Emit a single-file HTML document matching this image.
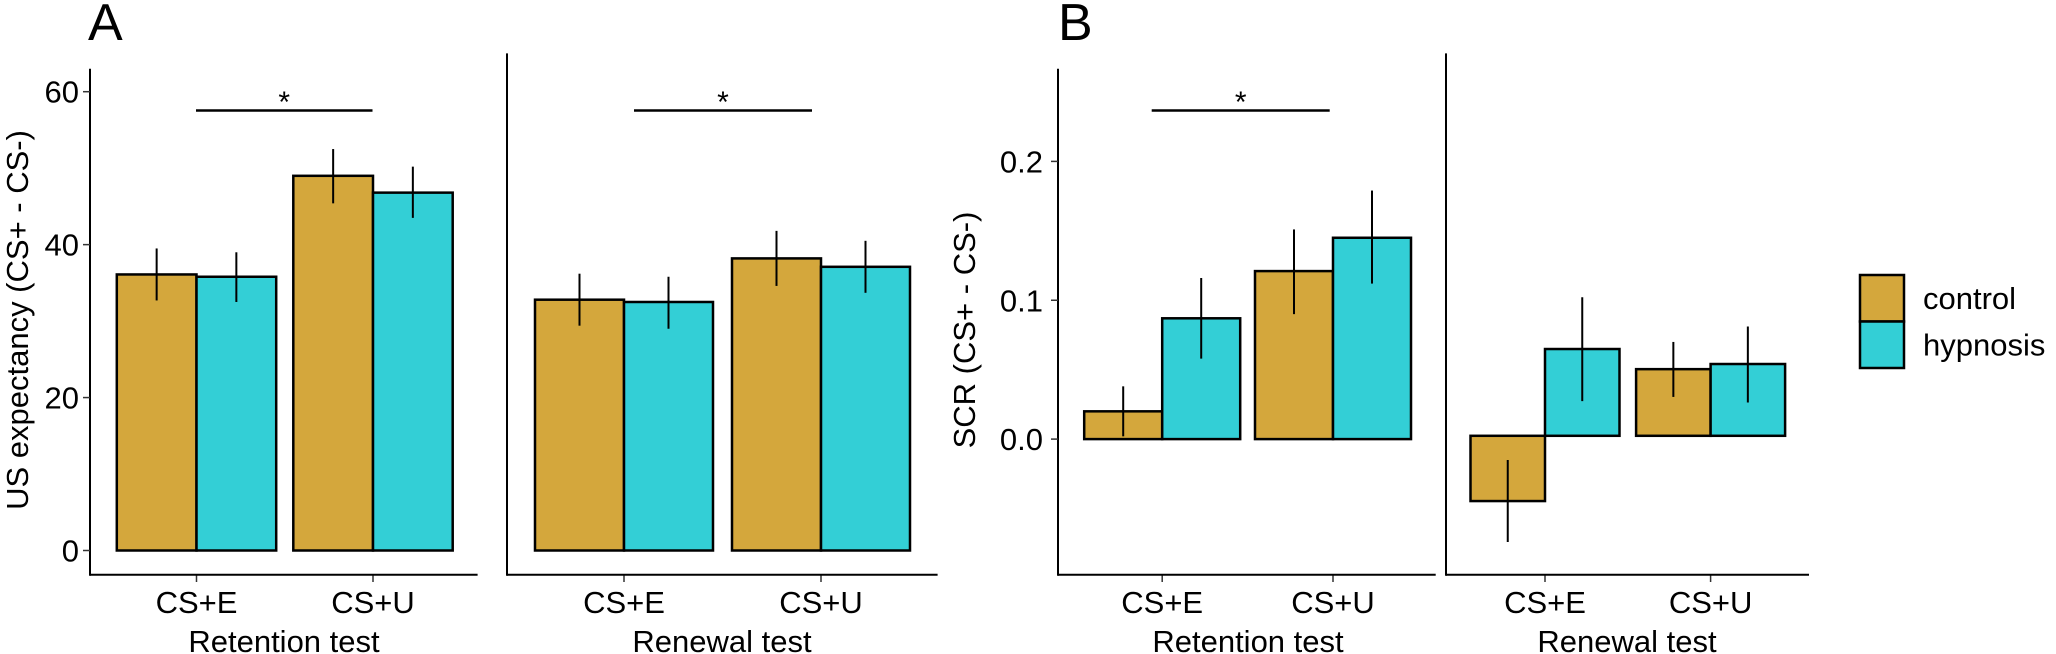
<!DOCTYPE html>
<html><head><meta charset="utf-8"><style>
html,body{margin:0;padding:0;background:#fff;}
svg{display:block;font-family:"Liberation Sans",Arial,sans-serif;}
</style></head><body>
<svg id="chart" width="2056" height="654" viewBox="0 0 2056 654" xmlns="http://www.w3.org/2000/svg"></svg>
<script>
// Panel A data
const groupsA = ["CS+E","CS+U"];
const seriesNames = ["control","hypnosis"];
const aRetCtrl = [36.1, 49.0];
const aRetHyp = [35.8, 46.8];
const aRetCtrlLo = [32.7, 45.4];
const aRetCtrlHi = [39.5, 52.5];
const aRetHypLo = [32.5, 43.5];
const aRetHypHi = [39.0, 50.2];
const aRenCtrl = [32.8, 38.2];
const aRenHyp = [32.5, 37.1];
const aRenCtrlLo = [29.4, 34.6];
const aRenCtrlHi = [36.2, 41.8];
const aRenHypLo = [29.0, 33.7];
const aRenHypHi = [35.8, 40.5];
const aTicks = [0, 20, 40, 60];
// Panel B data
const bRetCtrl = [0.020, 0.121];
const bRetHyp = [0.087, 0.145];
const bRetCtrlLo = [0.002, 0.090];
const bRetCtrlHi = [0.038, 0.151];
const bRetHypLo = [0.058, 0.112];
const bRetHypHi = [0.116, 0.179];
const bRenCtrl = [-0.047, 0.048];
const bRenHyp = [0.0625, 0.0517];
const bRenCtrlLo = [-0.0765, 0.028];
const bRenCtrlHi = [-0.0174, 0.0676];
const bRenHypLo = [0.025, 0.024];
const bRenHypHi = [0.0998, 0.0787];
const bTicks = [0.0, 0.1, 0.2];
const bTickLabels = ["0.0","0.1","0.2"];

const NS = "http://www.w3.org/2000/svg";
const svg = document.getElementById("chart");
const COL = ["#D4A73C", "#33CFD6"];
const FS = 31;
function mk(tag, attrs, parent, text) {
  const e = document.createElementNS(NS, tag);
  for (const k in attrs) e.setAttribute(k, attrs[k]);
  if (text !== undefined) e.textContent = text;
  (parent || svg).appendChild(e);
  return e;
}
const yA = v => 550.5 - v * (458.8 / 60);
const yB = v => 439.1 - v * 1388.5;
const yBr = v => 435.8 - v * 1388.5;

function panel(name, cfg) {
  const g = mk("g", {});
  
  
  const centers = cfg.centers, bw = cfg.bw;
  for (let i = 0; i < 2; i++) {
    const vals = [cfg.ctrl[i], cfg.hyp[i]];
    const lo = [cfg.ctrlLo[i], cfg.hypLo[i]];
    const hi = [cfg.ctrlHi[i], cfg.hypHi[i]];
    for (let s = 0; s < 2; s++) {
      const x0 = centers[i] + (s === 0 ? -bw : 0);
      const y0 = cfg.y(0), y1 = cfg.y(vals[s]);
      const r = mk("rect", {x: x0, y: Math.min(y0, y1), width: bw, height: Math.abs(y0 - y1), fill: COL[s], stroke: "#000", "stroke-width": 2.5}, g);
      
      
    }
    for (let s = 0; s < 2; s++) {
      const xc = centers[i] + (s === 0 ? -bw / 2 : bw / 2);
      const l = mk("line", {x1: xc, x2: xc, y1: cfg.y(lo[s]), y2: cfg.y(hi[s]), stroke: "#000", "stroke-width": 2}, g);
      
      
    }
    mk("line", {x1: centers[i], x2: centers[i], y1: 574.7, y2: 582, stroke: "#333", "stroke-width": 1.5}, g);
    const t = mk("text", {x: centers[i], y: 613, "font-size": FS, "text-anchor": "middle", fill: "#000"}, g, groupsA[i]);
    
    
  }
  mk("line", {x1: cfg.ax0, x2: cfg.ax1, y1: 574.7, y2: 574.7, stroke: "#000", "stroke-width": 2}, g);
  mk("line", {x1: cfg.ax0, x2: cfg.ax0, y1: cfg.axTop, y2: 575.7, stroke: "#000", "stroke-width": 2}, g);
  const tt = mk("text", {x: cfg.titleX, y: 652, "font-size": FS, "text-anchor": "middle", fill: "#000"}, g, cfg.title);
  
  
}
function sig(x1, x2) {
  const l = mk("line", {x1: x1, x2: x2, y1: 110.5, y2: 110.5, stroke: "#000", "stroke-width": 2.5});
  
  
  const t = mk("text", {x: (x1 + x2) / 2, y: 112, "font-size": 30, "text-anchor": "middle", fill: "#000"}, svg, "*");
  
  
}

panel("panel-a-retention", {centers: [196.5, 373], bw: 79.7, ctrl: aRetCtrl, hyp: aRetHyp, ctrlLo: aRetCtrlLo, ctrlHi: aRetCtrlHi, hypLo: aRetHypLo, hypHi: aRetHypHi, y: yA, ax0: 90, ax1: 477.6, axTop: 68.8, titleX: 284, title: "Retention test"});
panel("panel-a-renewal", {centers: [624, 821], bw: 89, ctrl: aRenCtrl, hyp: aRenHyp, ctrlLo: aRenCtrlLo, ctrlHi: aRenCtrlHi, hypLo: aRenHypLo, hypHi: aRenHypHi, y: yA, ax0: 507, ax1: 937.6, axTop: 53.4, titleX: 722, title: "Renewal test"});
aTicks.forEach(v => {
  mk("line", {x1: 83, x2: 90, y1: yA(v), y2: yA(v), stroke: "#333", "stroke-width": 1.5});
  const t = mk("text", {x: 79, y: yA(v) + 11, "font-size": FS, "text-anchor": "end", fill: "#000"}, svg, String(v));
  
  
});
sig(196, 372.5); sig(634, 812);
let t;
t = mk("text", {x: 0, y: 0, "font-size": FS, "text-anchor": "middle", transform: "translate(28,320) rotate(-90)", fill: "#000"}, svg, "US expectancy (CS+ - CS-)");


t = mk("text", {x: 88, y: 40, "font-size": 52, fill: "#000"}, svg, "A");



panel("panel-b-retention", {centers: [1162.2, 1333], bw: 78, ctrl: bRetCtrl, hyp: bRetHyp, ctrlLo: bRetCtrlLo, ctrlHi: bRetCtrlHi, hypLo: bRetHypLo, hypHi: bRetHypHi, y: yB, ax0: 1058, ax1: 1435.7, axTop: 68.8, titleX: 1248, title: "Retention test"});
panel("panel-b-renewal", {centers: [1545, 1710.6], bw: 74.5, ctrl: bRenCtrl, hyp: bRenHyp, ctrlLo: bRenCtrlLo, ctrlHi: bRenCtrlHi, hypLo: bRenHypLo, hypHi: bRenHypHi, y: yBr, ax0: 1446, ax1: 1809, axTop: 53.4, titleX: 1627, title: "Renewal test"});
bTicks.forEach((v, i) => {
  mk("line", {x1: 1051, x2: 1058, y1: yB(v), y2: yB(v), stroke: "#333", "stroke-width": 1.5});
  const tk = mk("text", {x: 1043, y: yB(v) + 11, "font-size": FS, "text-anchor": "end", fill: "#000"}, svg, bTickLabels[i]);
  
  
});
sig(1151.7, 1329.7);
t = mk("text", {x: 0, y: 0, "font-size": FS, "text-anchor": "middle", transform: "translate(975,330) rotate(-90)", fill: "#000"}, svg, "SCR (CS+ - CS-)");


t = mk("text", {x: 1058, y: 40, "font-size": 52, fill: "#000"}, svg, "B");



const lg = mk("g", {});


seriesNames.forEach((n, i) => {
  const y0 = 275 + i * 46.5;
  const r = mk("rect", {x: 1860, y: y0, width: 44, height: 46.5, fill: COL[i], stroke: "#000", "stroke-width": 2.5}, lg);
  
  
  const tx = mk("text", {x: 1923, y: y0 + 34, "font-size": FS, fill: "#000"}, lg, n);
  
  
});
</script>
</body></html>
